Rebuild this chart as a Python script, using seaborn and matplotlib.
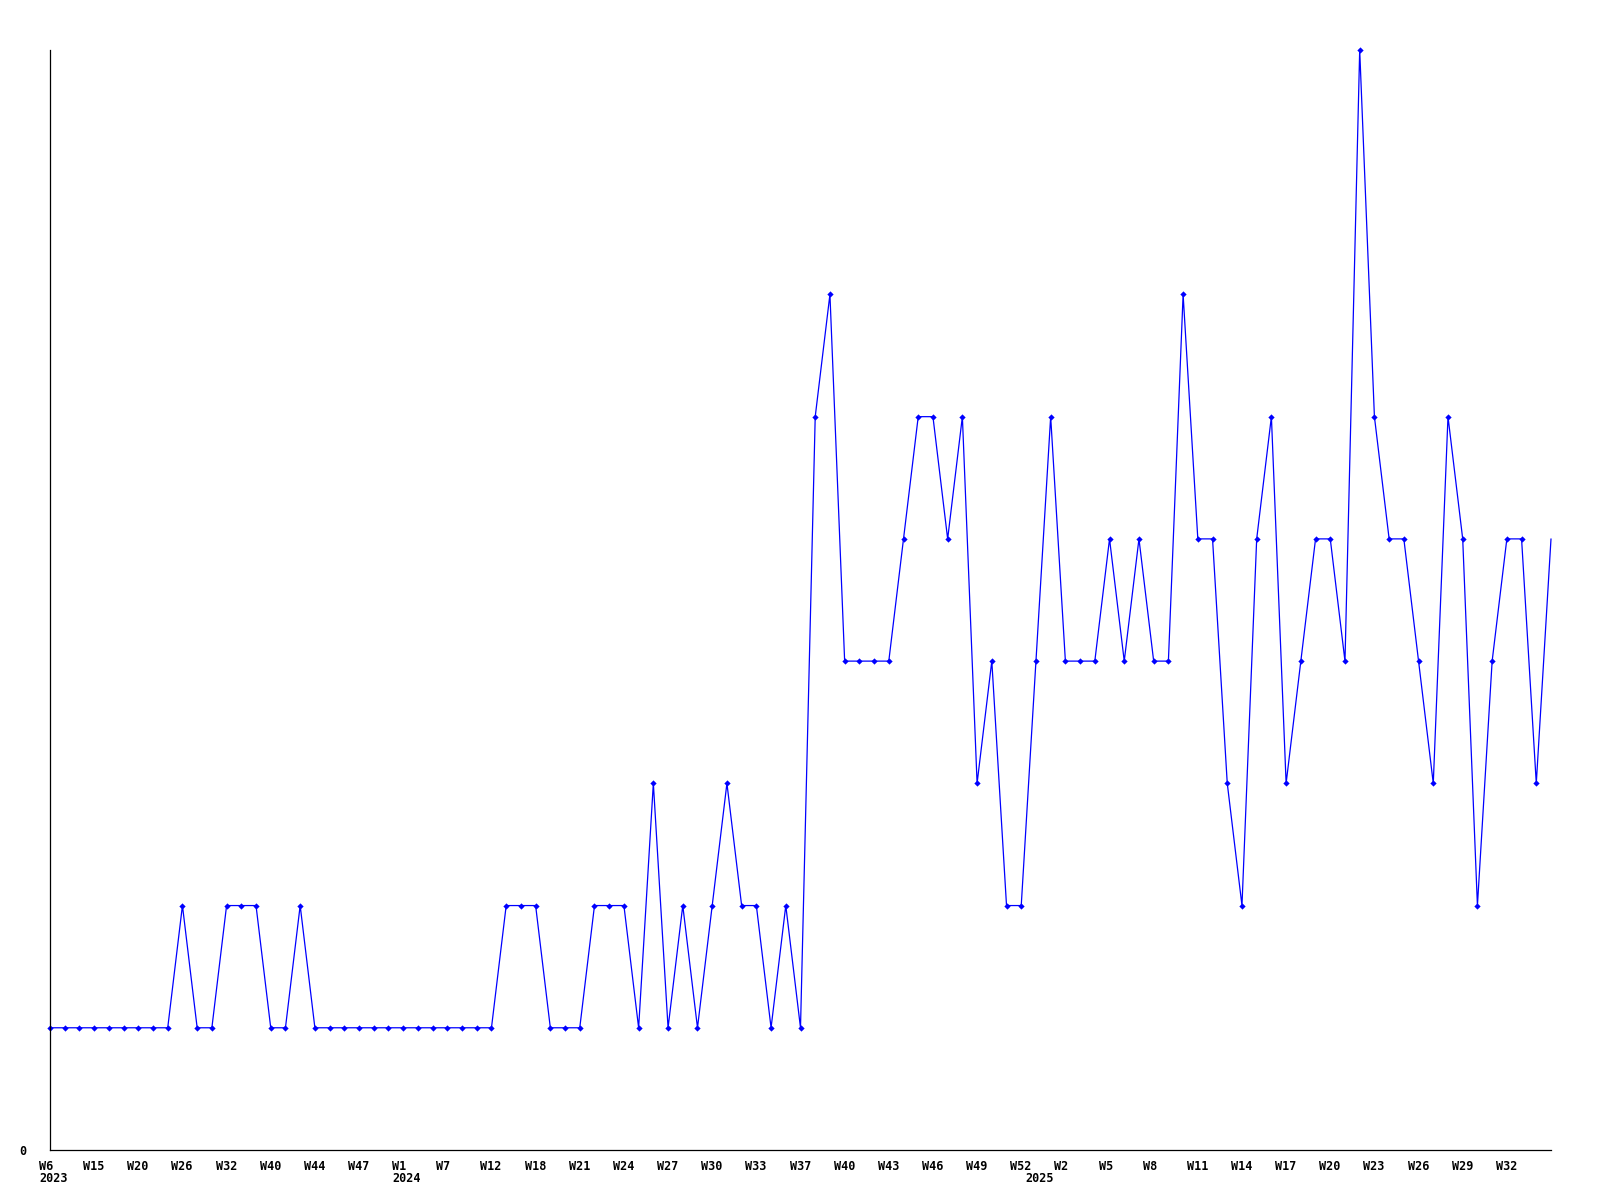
import matplotlib
matplotlib.use("Agg")
import matplotlib.pyplot as plt
import matplotlib.transforms as mtransforms
import seaborn as sns

# weekly counts, one value per sample
values = [1, 1, 1, 1, 1, 1, 1, 1, 1, 2,
          1, 1, 2, 2, 2, 1, 1, 2, 1, 1,
          1, 1, 1, 1, 1, 1, 1, 1, 1, 1,
          1, 2, 2, 2, 1, 1, 1, 2, 2, 2,
          1, 3, 1, 2, 1, 2, 3, 2, 2, 1,
          2, 1, 6, 7, 4, 4, 4, 4, 5, 6,
          6, 5, 6, 3, 4, 2, 2, 4, 6, 4,
          4, 4, 5, 4, 5, 4, 4, 7, 5, 5,
          3, 2, 5, 6, 3, 4, 5, 5, 4, 9,
          6, 5, 5, 4, 3, 6, 5, 2, 4, 5,
          5, 3, 5]

# labels on every third sample
week_labels = ["W6", "W15", "W20", "W26", "W32", "W40", "W44", "W47", "W1", "W7",
               "W12", "W18", "W21", "W24", "W27", "W30", "W33", "W37", "W40", "W43",
               "W46", "W49", "W52", "W2", "W5", "W8", "W11", "W14", "W17", "W20",
               "W23", "W26", "W29", "W32"]
years = ["2023", "2024", "2025"]
year_idx = [0, 24, 67]

idx = list(range(len(values)))
tick_idx = idx[::3][:len(week_labels)]

sns.set_style("white")
plt.rcParams["font.family"] = ["DejaVu Sans Mono"]

fig = plt.figure(figsize=(16, 12), dpi=100)
ax = fig.add_axes([50 / 1600, 50 / 1200, 1501 / 1600, 1100 / 1200])

sns.lineplot(x=idx, y=values, ax=ax, color="#0000ff", linewidth=0.9,
             marker="D", markersize=3.2, markeredgewidth=0,
             markevery=list(range(len(values) - 1)), clip_on=False)

ax.set_xlim(0, len(values) - 1)
ax.set_ylim(0, 9)

for side in ["top", "right"]:
    ax.spines[side].set_visible(False)
for side in ["left", "bottom"]:
    ax.spines[side].set_color("black")
    ax.spines[side].set_linewidth(0.9)

txt = dict(fontsize=8.5, fontweight="bold", color="black")
ax.set_yticks([0], labels=["0"], **txt)
ax.set_xticks(tick_idx, labels=week_labels, **txt)
ax.tick_params(axis="both", length=0)
ax.tick_params(axis="y", pad=17)
ax.tick_params(axis="x", pad=7)

shift = mtransforms.ScaledTranslation(-11 / 100, 0, fig.dpi_scale_trans)
for lab in ax.get_xticklabels():
    lab.set_horizontalalignment("left")
    lab.set_transform(lab.get_transform() + shift)

trans = mtransforms.blended_transform_factory(ax.transData, ax.transAxes)
year_shift = mtransforms.ScaledTranslation(-11 / 100, -28 / 100, fig.dpi_scale_trans)
for i, y in zip(year_idx, years):
    ax.text(i, 0, y, transform=trans + year_shift, ha="left", va="center", **txt)

ax.set_xlabel("")
ax.set_ylabel("")
fig.savefig("out.png", dpi=100)
